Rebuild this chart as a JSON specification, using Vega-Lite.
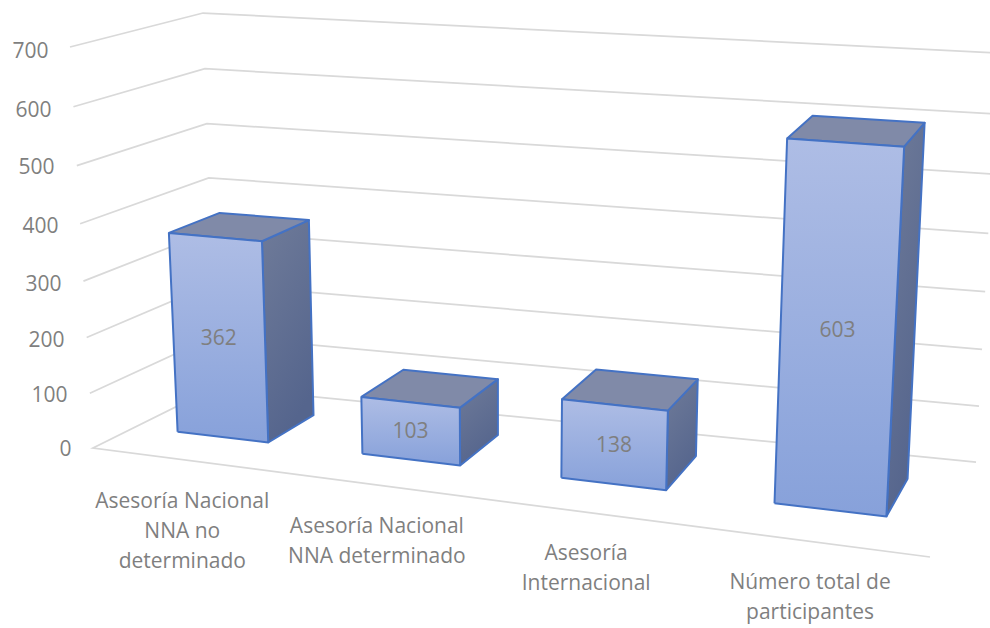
{
"$schema":"https://vega.github.io/schema/vega-lite/v6.json",
"width":915,"height":628,"autosize":{"type":"none"},"padding":{"left":75,"top":0,"right":0,"bottom":0},
"background":"white","view":{"stroke":null},
"datasets":{
"bars":[{"category":"Asesoría Nacional\nNNA no\ndeterminado","value":362},{"category":"Asesoría Nacional\nNNA determinado","value":103},{"category":"Asesoría\nInternacional","value":138},{"category":"Número total de\nparticipantes","value":603}],
"ticks":[{"tick":0},{"tick":100},{"tick":200},{"tick":300},{"tick":400},{"tick":500},{"tick":600},{"tick":700}]
},
"encoding":{
"x":{"field":"px","type":"quantitative","scale":{"domain":[75,990],"nice":false,"zero":false},"axis":null},
"y":{"field":"yv","type":"quantitative","scale":{"domain":[-314.8,789.7],"nice":false,"zero":false},
"axis":{"orient":"left","title":null,"values":[0,100,200,300,400,500,600,700],"domain":false,"ticks":false,"grid":false,"labelFont":"Open Sans","labelFontSize":21,"labelColor":"#7f7f7f",
"labelPadding":{"condition":[{"test":"datum.value==700","value":27},{"test":"datum.value==600","value":24},{"test":"datum.value==500","value":21},{"test":"datum.value==400","value":17},{"test":"datum.value==300","value":14},{"test":"datum.value==200","value":11},{"test":"datum.value==100","value":8}],"value":4},
"labelOffset":{"condition":[{"test":"datum.value==600","value":3},{"test":"datum.value==500","value":3},{"test":"datum.value==400","value":5},{"test":"datum.value==300","value":6},{"test":"datum.value==200","value":5},{"test":"datum.value==100","value":3}],"value":0}}}
},
"layer":[
{"data":{"name":"ticks"},
"transform":[
{"calculate":"datum.tick==0?[{o:0,c:1,d:0},{o:1,c:0,d:0},{o:2,c:0,d:1},{o:3,c:1,d:1}]:[{o:1,c:0,d:0},{o:2,c:0,d:1},{o:3,c:1,d:1}]","as":"path"},
{"flatten":["path"],"as":["v"]},
{"calculate":"datum.v.c","as":"c"},{"calculate":"datum.v.d","as":"d"},{"calculate":"datum.v.o","as":"o"},
{"calculate":"datum.tick/700-0.05*(datum.tick/700)*(1-datum.tick/700)","as":"f"},
{"calculate":"(1-datum.f)*((1-datum.d)*(93+837*datum.c)+datum.d*(216+760*datum.c))+datum.f*((1-datum.d)*(70+885*datum.c)+datum.d*(203+795*datum.c))","as":"px"},
{"calculate":"(449-((1-datum.f)*((1-datum.d)*(448+109*datum.c)+datum.d*(387+75*datum.c))+datum.f*((1-datum.d)*(47+60*datum.c)+datum.d*(13+40*datum.c))))/0.5686","as":"yv"}
],
"mark":{"type":"line","stroke":"#d9d9d9","strokeWidth":1.75,"clip":false},
"encoding":{"detail":{"field":"tick"},"order":{"field":"o"}}
},
{"data":{"name":"bars"},
"transform":[
{"window":[{"op":"row_number","as":"n"}]},
{"calculate":"[{s:'front',o:0,a:0,b:0,t:0},{s:'front',o:1,a:1,b:0,t:0},{s:'front',o:2,a:1,b:0,t:1},{s:'front',o:3,a:0,b:0,t:1},{s:'front',o:4,a:0,b:0,t:0},{s:'side',o:0,a:1,b:0,t:0},{s:'side',o:1,a:1,b:1,t:0},{s:'side',o:2,a:1,b:1,t:1},{s:'side',o:3,a:1,b:0,t:1},{s:'side',o:4,a:1,b:0,t:0},{s:'top',o:0,a:0,b:0,t:1},{s:'top',o:1,a:1,b:0,t:1},{s:'top',o:2,a:1,b:1,t:1},{s:'top',o:3,a:0,b:1,t:1},{s:'top',o:4,a:0,b:0,t:1}]","as":"verts"},
{"flatten":["verts"],"as":["v"]},
{"calculate":"datum.v.s","as":"face"},{"calculate":"datum.v.o","as":"o"},
{"calculate":"(datum.n-1+0.25+0.5*datum.v.a)/4","as":"u"},
{"calculate":"datum.u-0.003-0.14*datum.u*(1-datum.u)","as":"c"},
{"calculate":"0.35+0.41*datum.v.b","as":"d"},
{"calculate":"datum.v.t*datum.value/700","as":"h"},
{"calculate":"datum.h-0.05*datum.h*(1-datum.h)","as":"f"},
{"calculate":"(1-datum.f)*((1-datum.d)*(93+837*datum.c)+datum.d*(216+760*datum.c))+datum.f*((1-datum.d)*(70+885*datum.c)+datum.d*(203+795*datum.c))","as":"px"},
{"calculate":"(449-((1-datum.f)*((1-datum.d)*(448+109*datum.c)+datum.d*(387+75*datum.c))+datum.f*((1-datum.d)*(47+60*datum.c)+datum.d*(13+40*datum.c))))/0.5686","as":"yv"}
],
"layer":[
{"transform":[{"filter":"datum.face=='side'"}],
"mark":{"type":"line","strokeWidth":2,"stroke":"#4472c4","strokeJoin":"round","fill":{"gradient":"linear","x1":0,"y1":0,"x2":0.4,"y2":1,"stops":[{"offset":0,"color":"#6f7b99"},{"offset":1,"color":"#55658d"}]}},
"encoding":{"detail":{"field":"n"},"order":{"field":"o"}}},
{"transform":[{"filter":"datum.face=='top'"}],
"mark":{"type":"line","strokeWidth":2,"stroke":"#4472c4","strokeJoin":"round","fill":"#808aa8"},
"encoding":{"detail":{"field":"n"},"order":{"field":"o"}}},
{"transform":[{"filter":"datum.face=='front'"}],
"mark":{"type":"line","strokeWidth":2,"stroke":"#4472c4","strokeJoin":"round","fill":{"gradient":"linear","x1":0,"y1":0,"x2":0,"y2":1,"stops":[{"offset":0,"color":"#aebde5"},{"offset":1,"color":"#87a1da"}]}},
"encoding":{"detail":{"field":"n"},"order":{"field":"o"}}}
]},
{"data":{"name":"bars"},
"transform":[
{"window":[{"op":"row_number","as":"n"}]},
{"calculate":"(datum.n-1+0.5)/4","as":"u"},
{"calculate":"datum.u-0.003-0.14*datum.u*(1-datum.u)","as":"c"},
{"calculate":"0.35","as":"d"},
{"calculate":"0.5*datum.value/700","as":"h"},
{"calculate":"datum.h-0.05*datum.h*(1-datum.h)","as":"f"},
{"calculate":"(1-datum.f)*((1-datum.d)*(93+837*datum.c)+datum.d*(216+760*datum.c))+datum.f*((1-datum.d)*(70+885*datum.c)+datum.d*(203+795*datum.c))","as":"px"},
{"calculate":"(449-((1-datum.f)*((1-datum.d)*(448+109*datum.c)+datum.d*(387+75*datum.c))+datum.f*((1-datum.d)*(47+60*datum.c)+datum.d*(13+40*datum.c))))/0.5686","as":"yv"}
],
"mark":{"type":"text","font":"Open Sans","fontSize":21,"color":"#7f7f7f","baseline":"middle","align":"center","dy":1},
"encoding":{"text":{"field":"value","type":"quantitative"}}},
{"data":{"name":"bars"},
"transform":[
{"window":[{"op":"row_number","as":"n"}]},
{"calculate":"(datum.n-1+0.5)/4","as":"u"},
{"calculate":"datum.u-0.003-0.14*datum.u*(1-datum.u)","as":"c"},
{"calculate":"93+837*datum.c","as":"px"},
{"calculate":"(449-(448+109*datum.c))/0.5686","as":"yv"}
],
"mark":{"type":"text","font":"Open Sans","fontSize":21,"color":"#7f7f7f","baseline":"middle","align":"center","lineBreak":"\n","lineHeight":30,"dx":0,"dy":42},
"encoding":{"text":{"field":"category","type":"nominal"}}}
]
}
